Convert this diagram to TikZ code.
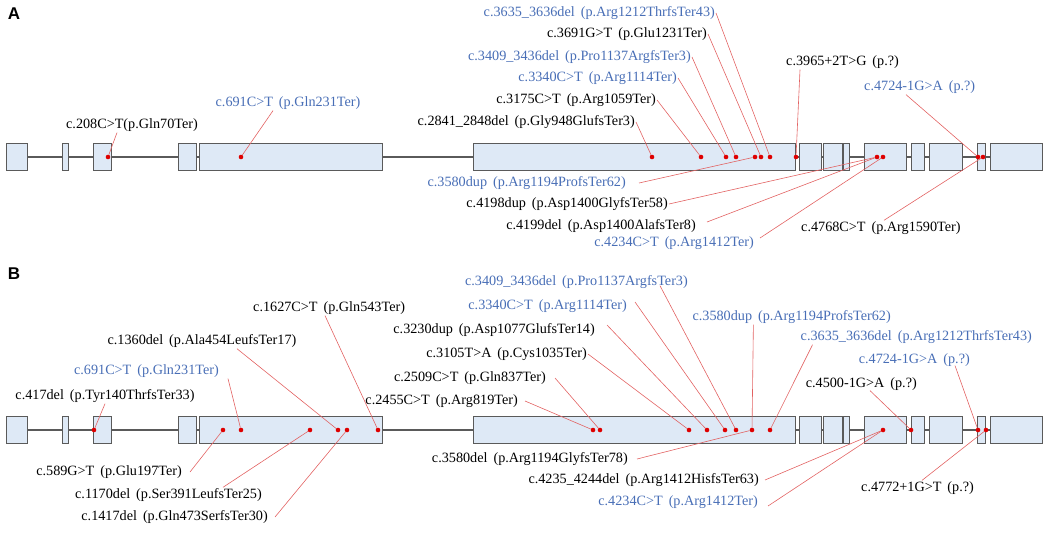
\documentclass[tikz,border=0pt]{standalone}
\usepackage{xcolor}
\usepackage{tikz}
\usepackage{fontspec}
\setmainfont{Liberation Serif}
\newfontfamily\panelfont{Liberation Sans}
\definecolor{exonfill}{RGB}{222,233,246}
\definecolor{exonline}{RGB}{90,90,90}
\definecolor{varblue}{RGB}{72,110,182}
\definecolor{pinred}{RGB}{226,98,98}
\definecolor{dotred}{RGB}{222,0,0}
\newcommand{\gp}{\hspace{0.42em}}

\begin{document}
\begin{tikzpicture}[x=1pt,y=-1pt,
    exon/.style={draw=exonline, fill=exonfill, line width=0.9pt},
    intron/.style={draw=exonline, line width=1.3pt},
    var/.style={inner sep=1pt, font=\fontsize{14.2}{16}\selectfont},
    varb/.style={var, text=varblue},
    hit/.style={circle, fill=dotred, inner sep=0pt, minimum size=4.6pt},
    pin/.style={draw=pinred, line width=0.6pt},
    panel/.style={font=\panelfont\bfseries\fontsize{17}{19}\selectfont}]
    \useasboundingbox (0,0) rectangle (1048,533);

    % panel A
    \node[panel] (pA) at (14,14) {A};
    \draw[intron] (27,157) -- (990,157);
    \draw[exon] (6,143) rectangle (27,170) (62,143) rectangle (68,170)
        (93,143) rectangle (111,170) (178,143) rectangle (196,170)
        (199,143) rectangle (382,170) (473,143) rectangle (795,170)
        (799,143) rectangle (821,170) (823,143) rectangle (842,170)
        (843,143) rectangle (849,170) (864,143) rectangle (906,170)
        (911,143) rectangle (924,170) (929,143) rectangle (962,170)
        (977,143) rectangle (985,170) (990,143) rectangle (1042,170);

    \node[hit] (da208) at (108,157) {};
    \node[hit] (da691) at (241,157) {};
    \node[hit] (da2841) at (652,157) {};
    \node[hit] (da3175) at (701,157) {};
    \node[hit] (da3340) at (726,157) {};
    \node[hit] (da3409) at (736,157) {};
    \node[hit] (da3580) at (755,157) {};
    \node[hit] (da3691) at (761,157) {};
    \node[hit] (da3635) at (770,157) {};
    \node[hit] (da3965) at (796,157) {};
    \node[hit] (da4198) at (877,157) {};
    \node[hit] (da4234) at (883,157) {};
    \node[hit] (da4724) at (978,157) {};
    \node[hit] (da4768) at (983,157) {};

    \node[var] (la208) at (132,125) {c.208C>T(p.Gln70Ter)};
    \node[varb] (la691) at (288,103) {c.691C>T\gp(p.Gln231Ter)};
    \node[var, anchor=east] (la2841) at (636,122) {c.2841\_2848del\gp(p.Gly948GlufsTer3)};
    \node[var, anchor=east] (la3175) at (657,100) {c.3175C>T\gp(p.Arg1059Ter)};
    \node[varb, anchor=east] (la3340) at (678,78) {c.3340C>T\gp(p.Arg1114Ter)};
    \node[varb, anchor=east] (la3409) at (692,57) {c.3409\_3436del\gp(p.Pro1137ArgfsTer3)};
    \node[var, anchor=east] (la3691) at (708,34) {c.3691G>T\gp(p.Glu1231Ter)};
    \node[varb, anchor=east] (la3635) at (716,13) {c.3635\_3636del\gp(p.Arg1212ThrfsTer43)};
    \node[var, anchor=west] (la3965) at (785,62) {c.3965+2T>G\gp(p.?)};
    \node[varb, anchor=west] (la4724) at (863,87) {c.4724-1G>A\gp(p.?)};
    \node[varb, anchor=east] (la3580) at (627,183) {c.3580dup\gp(p.Arg1194ProfsTer62)};
    \node[var, anchor=east] (la4198) at (669,204) {c.4198dup\gp(p.Asp1400GlyfsTer58)};
    \node[var, anchor=east] (la4199) at (697,226) {c.4199del\gp(p.Asp1400AlafsTer8)};
    \node[varb, anchor=east] (la4234) at (755,243) {c.4234C>T\gp(p.Arg1412Ter)};
    \node[var, anchor=west] (la4768) at (800,228) {c.4768C>T\gp(p.Arg1590Ter)};

    \draw[pin] ([xshift=-15pt]la208.south) -- (da208);
    \draw[pin] ([xshift=-15pt]la691.south) -- (da691);
    \draw[pin] (la2841.east) -- (da2841);
    \draw[pin] (la3175.east) -- (da3175);
    \draw[pin] (la3340.east) -- (da3340);
    \draw[pin] (la3409.east) -- (da3409);
    \draw[pin] (la3691.east) -- (da3691);
    \draw[pin] (la3635.east) -- (da3635);
    \draw[pin] ([xshift=15pt]la3965.south west) -- (da3965);
    \draw[pin] ([xshift=43pt]la4724.south west) -- (da4724);
    \draw[pin] ([xshift=12pt]la3580.east) -- (da3580);
    \draw[pin] (la4198.east) -- (da4198);
    \draw[pin] ([xshift=10pt,yshift=4pt]la4199.east) -- (da4198);
    \draw[pin] ([xshift=5pt,yshift=5pt]la4234.east) -- (da4234);
    \draw[pin] ([xshift=3pt]la4768.north) -- (da4768);

    % panel B
    \node[panel] (pB) at (14,274) {B};
    \draw[intron] (27,430) -- (990,430);
    \draw[exon] (6,416) rectangle (27,443) (62,416) rectangle (68,443)
        (93,416) rectangle (111,443) (178,416) rectangle (196,443)
        (199,416) rectangle (382,443) (473,416) rectangle (795,443)
        (799,416) rectangle (821,443) (823,416) rectangle (842,443)
        (843,416) rectangle (849,443) (864,416) rectangle (906,443)
        (911,416) rectangle (924,443) (929,416) rectangle (962,443)
        (977,416) rectangle (985,443) (990,416) rectangle (1042,443);

    \node[hit] (db417) at (94,430) {};
    \node[hit] (db589) at (223,430) {};
    \node[hit] (db691) at (241,430) {};
    \node[hit] (db1170) at (310,430) {};
    \node[hit] (db1360) at (338,430) {};
    \node[hit] (db1417) at (347,430) {};
    \node[hit] (db1627) at (378,430) {};
    \node[hit] (db2455) at (593,430) {};
    \node[hit] (db2509) at (600,430) {};
    \node[hit] (db3105) at (689,430) {};
    \node[hit] (db3230) at (707,430) {};
    \node[hit] (db3340) at (725,430) {};
    \node[hit] (db3409) at (736,430) {};
    \node[hit] (db3580) at (752,430) {};
    \node[hit] (db3635) at (770,430) {};
    \node[hit] (db4234) at (883,430) {};
    \node[hit] (db4500) at (911,430) {};
    \node[hit] (db4724) at (978,430) {};
    \node[hit] (db4772) at (986,430) {};

    \node[var] (lb417) at (105,396) {c.417del\gp(p.Tyr140ThrfsTer33)};
    \node[varb, anchor=east] (lb691) at (220,371) {c.691C>T\gp(p.Gln231Ter)};
    \node[var] (lb1360) at (202,341) {c.1360del\gp(p.Ala454LeufsTer17)};
    \node[var, anchor=west] (lb1627) at (252,308) {c.1627C>T\gp(p.Gln543Ter)};
    \node[var, anchor=east] (lb2455) at (519,401) {c.2455C>T\gp(p.Arg819Ter)};
    \node[var, anchor=east] (lb2509) at (547,378) {c.2509C>T\gp(p.Gln837Ter)};
    \node[var, anchor=east] (lb3105) at (588,354) {c.3105T>A\gp(p.Cys1035Ter)};
    \node[var, anchor=east] (lb3230) at (596,330) {c.3230dup\gp(p.Asp1077GlufsTer14)};
    \node[varb, anchor=east] (lb3340) at (628,306) {c.3340C>T\gp(p.Arg1114Ter)};
    \node[varb, anchor=east] (lb3409) at (689,282) {c.3409\_3436del\gp(p.Pro1137ArgfsTer3)};
    \node[varb, anchor=east] (lb3580) at (892,317) {c.3580dup\gp(p.Arg1194ProfsTer62)};
    \node[varb, anchor=east] (lb3635) at (1033,337) {c.3635\_3636del\gp(p.Arg1212ThrfsTer43)};
    \node[varb, anchor=east] (lb4724) at (971,360) {c.4724-1G>A\gp(p.?)};
    \node[var, anchor=east] (lb4500) at (918,384) {c.4500-1G>A\gp(p.?)};
    \node[var, anchor=east] (lb589) at (183,472) {c.589G>T\gp(p.Glu197Ter)};
    \node[var, anchor=east] (lb1170) at (263,495) {c.1170del\gp(p.Ser391LeufsTer25)};
    \node[var, anchor=east] (lb1417) at (269,517) {c.1417del\gp(p.Gln473SerfsTer30)};
    \node[var, anchor=east] (lb3580d) at (629,459) {c.3580del\gp(p.Arg1194GlyfsTer78)};
    \node[var, anchor=east] (lb4235) at (760,480) {c.4235\_4244del\gp(p.Arg1412HisfsTer63)};
    \node[varb, anchor=east] (lb4234) at (759,502) {c.4234C>T\gp(p.Arg1412Ter)};
    \node[var, anchor=west] (lb4772) at (860,488) {c.4772+1G>T\gp(p.?)};

    \draw[pin] (lb417.south) -- (db417);
    \draw[pin] ([xshift=8pt]lb691.south east) -- (db691);
    \draw[pin] ([xshift=35pt]lb1360.south) -- (db1360);
    \draw[pin] ([xshift=73pt]lb1627.south west) -- (db1627);
    \draw[pin] ([xshift=6pt]lb2455.east) -- (db2455);
    \draw[pin] ([xshift=8pt]lb2509.east) -- (db2509);
    \draw[pin] (lb3105.east) -- (db3105);
    \draw[pin] ([xshift=11pt,yshift=5pt]lb3230.east) -- (db3230);
    \draw[pin] ([xshift=7pt,yshift=4pt]lb3340.east) -- (db3340);
    \draw[pin] ([xshift=-29pt,yshift=4pt]lb3409.south east) -- (db3409);
    \draw[pin] ([xshift=62pt]lb3580.south west) -- (db3580);
    \draw[pin] ([xshift=13pt]lb3635.south west) -- (db3635);
    \draw[pin] ([xshift=-16pt,yshift=2pt]lb4724.south east) -- (db4724);
    \draw[pin] ([xshift=-48pt,yshift=1pt]lb4500.south east) -- (db4500);
    \draw[pin] ([xshift=7pt]lb589.east) -- (db589);
    \draw[pin] ([xshift=-40pt]lb1170.north east) -- (db1170);
    \draw[pin] ([xshift=6pt]lb1417.east) -- (db1417);
    \draw[pin] ([xshift=8pt]lb3580d.east) -- (db3580);
    \draw[pin] ([xshift=5pt]lb4235.east) -- (db4234);
    \draw[pin] ([xshift=9pt,yshift=-4pt]lb4234.east) -- (db4234);
    \draw[pin] ([xshift=62pt]lb4772.north west) -- (db4772);
\end{tikzpicture}
\end{document}
